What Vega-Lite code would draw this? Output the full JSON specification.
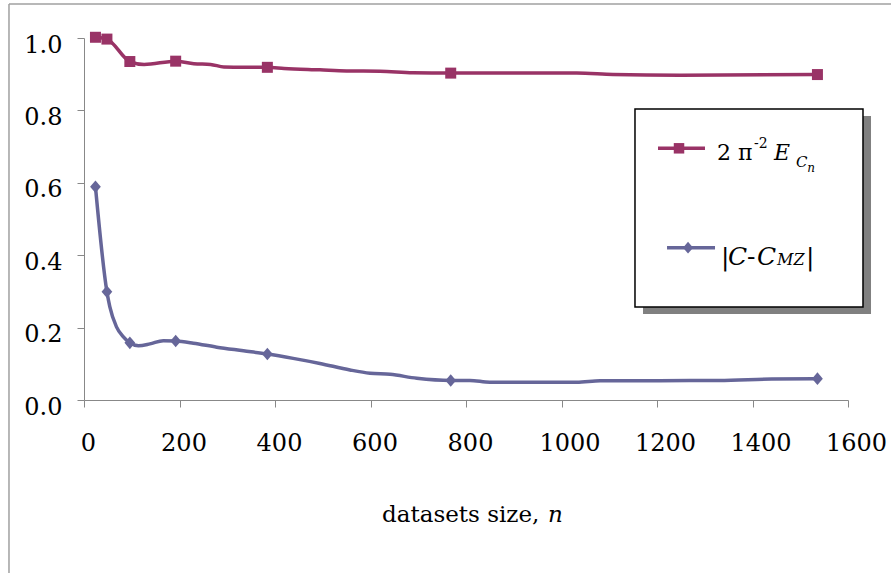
{
  "$schema": "https://vega.github.io/schema/vega-lite/v6.json",
  "width": 764,
  "height": 362,
  "autosize": {"type": "none"},
  "padding": {"left": 84, "top": 38, "right": 43, "bottom": 173},
  "background": "white",
  "config": {
    "view": {"stroke": null},
    "font": "DejaVu Serif",
    "axis": {"titleOpacity": 0, "grid": false}
  },
  "datasets": {
    "one": [{}],
    "series": [
      {"s": "E", "n": 24, "v": 1.002, "m": true},
      {"s": "E", "n": 48, "v": 0.997, "m": true},
      {"s": "E", "n": 96, "v": 0.935, "m": true},
      {"s": "E", "n": 126, "v": 0.927, "m": false},
      {"s": "E", "n": 192, "v": 0.936, "m": true},
      {"s": "E", "n": 230, "v": 0.929, "m": false},
      {"s": "E", "n": 265, "v": 0.927, "m": false},
      {"s": "E", "n": 293, "v": 0.920, "m": false},
      {"s": "E", "n": 335, "v": 0.919, "m": false},
      {"s": "E", "n": 384, "v": 0.919, "m": true},
      {"s": "E", "n": 419, "v": 0.916, "m": false},
      {"s": "E", "n": 494, "v": 0.912, "m": false},
      {"s": "E", "n": 550, "v": 0.909, "m": false},
      {"s": "E", "n": 620, "v": 0.908, "m": false},
      {"s": "E", "n": 689, "v": 0.904, "m": false},
      {"s": "E", "n": 768, "v": 0.903, "m": true},
      {"s": "E", "n": 829, "v": 0.903, "m": false},
      {"s": "E", "n": 1032, "v": 0.903, "m": false},
      {"s": "E", "n": 1108, "v": 0.899, "m": false},
      {"s": "E", "n": 1248, "v": 0.897, "m": false},
      {"s": "E", "n": 1536, "v": 0.899, "m": true},
      {"s": "C", "n": 24, "v": 0.589, "m": true},
      {"s": "C", "n": 48, "v": 0.299, "m": true},
      {"s": "C", "n": 54, "v": 0.258, "m": false},
      {"s": "C", "n": 68, "v": 0.202, "m": false},
      {"s": "C", "n": 82, "v": 0.175, "m": false},
      {"s": "C", "n": 96, "v": 0.158, "m": true},
      {"s": "C", "n": 114, "v": 0.150, "m": false},
      {"s": "C", "n": 138, "v": 0.155, "m": false},
      {"s": "C", "n": 166, "v": 0.164, "m": false},
      {"s": "C", "n": 192, "v": 0.163, "m": true},
      {"s": "C", "n": 229, "v": 0.157, "m": false},
      {"s": "C", "n": 278, "v": 0.146, "m": false},
      {"s": "C", "n": 334, "v": 0.136, "m": false},
      {"s": "C", "n": 384, "v": 0.127, "m": true},
      {"s": "C", "n": 438, "v": 0.115, "m": false},
      {"s": "C", "n": 494, "v": 0.101, "m": false},
      {"s": "C", "n": 557, "v": 0.083, "m": false},
      {"s": "C", "n": 599, "v": 0.074, "m": false},
      {"s": "C", "n": 641, "v": 0.071, "m": false},
      {"s": "C", "n": 697, "v": 0.060, "m": false},
      {"s": "C", "n": 768, "v": 0.054, "m": true},
      {"s": "C", "n": 808, "v": 0.054, "m": false},
      {"s": "C", "n": 850, "v": 0.049, "m": false},
      {"s": "C", "n": 1032, "v": 0.049, "m": false},
      {"s": "C", "n": 1081, "v": 0.053, "m": false},
      {"s": "C", "n": 1330, "v": 0.054, "m": false},
      {"s": "C", "n": 1440, "v": 0.058, "m": false},
      {"s": "C", "n": 1536, "v": 0.059, "m": true}
    ]
  },
  "layer": [
    {
      "data": {"name": "one"},
      "mark": {"type": "rule", "color": "#a0a0a0", "strokeWidth": 1.5},
      "encoding": {
        "x": {"datum": -157.1, "type": "quantitative"},
        "x2": {"datum": 1720},
        "y": {"datum": 1.0939, "type": "quantitative"}
      }
    },
    {
      "data": {"name": "one"},
      "mark": {"type": "rule", "color": "#a0a0a0", "strokeWidth": 1.5},
      "encoding": {
        "x": {"datum": -157.1, "type": "quantitative"},
        "y": {"datum": 1.0939, "type": "quantitative"},
        "y2": {"datum": -0.6}
      }
    },
    {
      "data": {"name": "series"},
      "mark": {"type": "line", "interpolate": "monotone", "strokeWidth": 3.5},
      "encoding": {
        "x": {
          "field": "n", "type": "quantitative",
          "scale": {"domain": [0, 1600], "nice": false, "zero": false},
          "axis": {
            "title": null,
            "values": [0, 200, 400, 600, 800, 1000, 1200, 1400, 1600],
            "format": "d",
            "domainColor": "#888888", "tickColor": "#888888", "tickSize": 7,
            "labelFont": "DejaVu Serif", "labelFontSize": 24, "labelColor": "#000000",
            "labelPadding": 24, "labelFlush": false, "labelOverlap": false,
            "labelOffset": {"condition": {"test": "datum.value >= 1000", "value": 8}, "value": 4}
          }
        },
        "y": {
          "field": "v", "type": "quantitative",
          "scale": {"domain": [0, 1], "nice": false},
          "axis": {
            "title": null,
            "values": [0, 0.2, 0.4, 0.6, 0.8, 1.0],
            "format": ".1f",
            "domainColor": "#888888", "tickColor": "#888888", "tickSize": 7,
            "labelFont": "DejaVu Serif", "labelFontSize": 24, "labelColor": "#000000",
            "labelPadding": 15, "labelOffset": 7, "labelFlush": false, "labelOverlap": false
          }
        },
        "color": {
          "field": "s", "type": "nominal",
          "scale": {"domain": ["E", "C"], "range": ["#993366", "#666699"]},
          "legend": null
        }
      }
    },
    {
      "data": {"name": "series"},
      "transform": [{"filter": "datum.m && datum.s == 'E'"}],
      "mark": {"type": "point", "shape": "square", "filled": true, "opacity": 1, "size": 121, "color": "#993366"},
      "encoding": {
        "x": {"field": "n", "type": "quantitative"},
        "y": {"field": "v", "type": "quantitative"}
      }
    },
    {
      "data": {"name": "series"},
      "transform": [{"filter": "datum.m && datum.s == 'C'"}],
      "mark": {"type": "point", "shape": "M-0.85,0L0,-1L0.85,0L0,1Z", "filled": true, "opacity": 1, "size": 160, "color": "#666699"},
      "encoding": {
        "x": {"field": "n", "type": "quantitative"},
        "y": {"field": "v", "type": "quantitative"}
      }
    },
    {
      "data": {"name": "one"},
      "mark": {"type": "rect", "fill": "#808080"},
      "encoding": {
        "x": {"datum": 1170.7, "type": "quantitative"},
        "x2": {"datum": 1648.2},
        "y": {"datum": 0.7845, "type": "quantitative"},
        "y2": {"datum": 0.2376}
      }
    },
    {
      "data": {"name": "one"},
      "mark": {"type": "rect", "fill": "#ffffff", "stroke": "#000000", "strokeWidth": 1.5},
      "encoding": {
        "x": {"datum": 1153.9, "type": "quantitative"},
        "x2": {"datum": 1631.4},
        "y": {"datum": 0.8039, "type": "quantitative"},
        "y2": {"datum": 0.2569}
      }
    },
    {
      "data": {"name": "one"},
      "mark": {"type": "rule", "color": "#993366", "strokeWidth": 3.5},
      "encoding": {
        "x": {"datum": 1202.1, "type": "quantitative"},
        "x2": {"datum": 1300.5},
        "y": {"datum": 0.6953, "type": "quantitative"}
      }
    },
    {
      "data": {"name": "one"},
      "mark": {"type": "point", "shape": "square", "filled": true, "opacity": 1, "size": 110, "color": "#993366"},
      "encoding": {
        "x": {"datum": 1246.1, "type": "quantitative"},
        "y": {"datum": 0.6953, "type": "quantitative"}
      }
    },
    {
      "data": {"name": "one"},
      "mark": {"type": "rule", "color": "#666699", "strokeWidth": 3.5},
      "encoding": {
        "x": {"datum": 1221.0, "type": "quantitative"},
        "x2": {"datum": 1321.5},
        "y": {"datum": 0.4207, "type": "quantitative"}
      }
    },
    {
      "data": {"name": "one"},
      "mark": {"type": "point", "shape": "M-0.85,0L0,-1L0.85,0L0,1Z", "filled": true, "opacity": 1, "size": 140, "color": "#666699"},
      "encoding": {
        "x": {"datum": 1265.0, "type": "quantitative"},
        "y": {"datum": 0.4207, "type": "quantitative"}
      }
    },
    {
      "data": {"name": "one"},
      "mark": {"type": "text", "text": "2 π", "font": "DejaVu Serif", "fontSize": 22, "align": "left", "baseline": "alphabetic", "color": "#000000"},
      "encoding": {"x": {"datum": 1325.7, "type": "quantitative"}, "y": {"datum": 0.6630, "type": "quantitative"}}
    },
    {
      "data": {"name": "one"},
      "mark": {"type": "text", "text": "-2", "font": "DejaVu Serif", "fontSize": 14, "align": "left", "baseline": "alphabetic", "color": "#000000"},
      "encoding": {"x": {"datum": 1403.0, "type": "quantitative"}, "y": {"datum": 0.6961, "type": "quantitative"}}
    },
    {
      "data": {"name": "one"},
      "mark": {"type": "text", "text": "E", "font": "DejaVu Serif", "fontStyle": "italic", "fontSize": 22, "align": "left", "baseline": "alphabetic", "color": "#000000"},
      "encoding": {"x": {"datum": 1445.0, "type": "quantitative"}, "y": {"datum": 0.6630, "type": "quantitative"}}
    },
    {
      "data": {"name": "one"},
      "mark": {"type": "text", "text": "C", "font": "DejaVu Serif", "fontStyle": "italic", "fontSize": 15, "align": "left", "baseline": "alphabetic", "color": "#000000"},
      "encoding": {"x": {"datum": 1491.0, "type": "quantitative"}, "y": {"datum": 0.6436, "type": "quantitative"}}
    },
    {
      "data": {"name": "one"},
      "mark": {"type": "text", "text": "n", "font": "DejaVu Serif", "fontStyle": "italic", "fontSize": 12, "align": "left", "baseline": "alphabetic", "color": "#000000"},
      "encoding": {"x": {"datum": 1514.5, "type": "quantitative"}, "y": {"datum": 0.6298, "type": "quantitative"}}
    },
    {
      "data": {"name": "one"},
      "mark": {"type": "text", "text": "|", "font": "DejaVu Serif", "fontSize": 25, "align": "left", "baseline": "alphabetic", "color": "#000000"},
      "encoding": {"x": {"datum": 1334.0, "type": "quantitative"}, "y": {"datum": 0.3729, "type": "quantitative"}}
    },
    {
      "data": {"name": "one"},
      "mark": {"type": "text", "text": "C", "font": "DejaVu Serif", "fontStyle": "italic", "fontSize": 25, "align": "left", "baseline": "alphabetic", "color": "#000000"},
      "encoding": {"x": {"datum": 1348.7, "type": "quantitative"}, "y": {"datum": 0.3729, "type": "quantitative"}}
    },
    {
      "data": {"name": "one"},
      "mark": {"type": "text", "text": "-", "font": "DejaVu Serif", "fontSize": 25, "align": "left", "baseline": "alphabetic", "color": "#000000"},
      "encoding": {"x": {"datum": 1388.5, "type": "quantitative"}, "y": {"datum": 0.3729, "type": "quantitative"}}
    },
    {
      "data": {"name": "one"},
      "mark": {"type": "text", "text": "C", "font": "DejaVu Serif", "fontStyle": "italic", "fontSize": 25, "align": "left", "baseline": "alphabetic", "color": "#000000"},
      "encoding": {"x": {"datum": 1409.4, "type": "quantitative"}, "y": {"datum": 0.3729, "type": "quantitative"}}
    },
    {
      "data": {"name": "one"},
      "mark": {"type": "text", "text": "MZ", "font": "DejaVu Serif", "fontStyle": "italic", "fontSize": 16, "align": "left", "baseline": "alphabetic", "color": "#000000"},
      "encoding": {"x": {"datum": 1451.3, "type": "quantitative"}, "y": {"datum": 0.3729, "type": "quantitative"}}
    },
    {
      "data": {"name": "one"},
      "mark": {"type": "text", "text": "|", "font": "DejaVu Serif", "fontSize": 25, "align": "left", "baseline": "alphabetic", "color": "#000000"},
      "encoding": {"x": {"datum": 1512.0, "type": "quantitative"}, "y": {"datum": 0.3729, "type": "quantitative"}}
    },
    {
      "data": {"name": "one"},
      "mark": {"type": "text", "text": "datasets size,", "font": "DejaVu Serif", "fontSize": 23, "align": "left", "baseline": "alphabetic", "color": "#000000"},
      "encoding": {"x": {"datum": 624.1, "type": "quantitative"}, "y": {"datum": -0.3370, "type": "quantitative"}}
    },
    {
      "data": {"name": "one"},
      "mark": {"type": "text", "text": "n", "font": "DejaVu Serif", "fontStyle": "italic", "fontSize": 23, "align": "left", "baseline": "alphabetic", "color": "#000000"},
      "encoding": {"x": {"datum": 971.7, "type": "quantitative"}, "y": {"datum": -0.3370, "type": "quantitative"}}
    }
  ]
}
